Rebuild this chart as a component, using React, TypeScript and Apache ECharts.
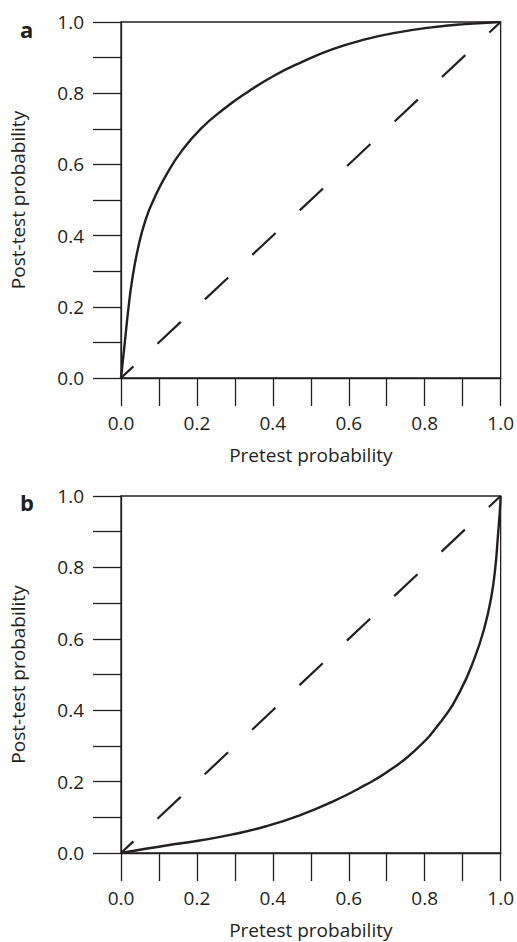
import React, { useEffect, useRef } from "react";
import * as echarts from "echarts";

// Panel a: post-test probability for a positive test
const curveAPretest = [0, 0.01, 0.02, 0.03, 0.045, 0.065, 0.09, 0.12, 0.16, 0.21, 0.27, 0.333, 0.403, 0.469, 0.556, 0.643, 0.73, 0.818, 0.905, 1.0];
const curveAPost = [0, 0.1, 0.2, 0.28, 0.365, 0.445, 0.51, 0.572, 0.638, 0.7, 0.755, 0.803, 0.849, 0.884, 0.923, 0.951, 0.971, 0.985, 0.994, 1.0];

// Panel b: post-test probability for a negative test
const curveBPretest = [0, 0.05, 0.119, 0.207, 0.294, 0.382, 0.469, 0.556, 0.643, 0.7, 0.774, 0.844, 0.894, 0.931, 0.957, 0.975, 0.986, 0.993, 0.998, 1.0];
const curveBPost = [0, 0.009, 0.021, 0.035, 0.052, 0.075, 0.105, 0.143, 0.19, 0.226, 0.287, 0.37, 0.455, 0.545, 0.63, 0.715, 0.8, 0.89, 0.96, 1.0];

// Line of identity
const diagonalX = [0, 1];
const diagonalY = [0, 1];

const tickLabels = ["0.0", "0.2", "0.4", "0.6", "0.8", "1.0"];
const panelLabels = ["a", "b"];
const xName = "Pretest probability";
const yName = "Post-test probability";

const INK = "#231f20";
const FONT = "'Open Sans', 'Noto Sans', sans-serif";

function zip(xs: number[], ys: number[]) {
  return xs.map((x, i) => [x, ys[i]]);
}

export default function App() {
  const ref = useRef<HTMLDivElement>(null);
  useEffect(() => {
    if (!ref.current) return;
    const chart = echarts.init(ref.current, null, { renderer: "svg" });

    const labelFmt = (_v: number, idx: number) => (idx % 2 === 0 ? tickLabels[idx / 2] : "");

    const makeX = (gridIndex: number) => ({
      type: "value" as const,
      gridIndex,
      min: 0,
      max: 1,
      interval: 0.1,
      name: xName,
      nameLocation: "middle" as const,
      nameGap: 67,
      nameTextStyle: { fontFamily: FONT, fontSize: 19, color: INK },
      axisLine: { show: true, lineStyle: { color: INK, width: 1.3 } },
      axisTick: { show: true, inside: false, length: 28, lineStyle: { color: INK, width: 1.3 } },
      axisLabel: { show: true, margin: 35, formatter: labelFmt, fontFamily: FONT, fontSize: 19, color: INK, showMinLabel: true, showMaxLabel: true },
      splitLine: { show: false },
    });
    const makeY = (gridIndex: number) => ({
      type: "value" as const,
      gridIndex,
      min: 0,
      max: 1,
      interval: 0.1,
      name: yName,
      nameLocation: "middle" as const,
      nameGap: 94,
      nameTextStyle: { fontFamily: FONT, fontSize: 19, color: INK },
      axisLine: { show: true, lineStyle: { color: INK, width: 1.3 } },
      axisTick: { show: true, inside: false, length: 28, lineStyle: { color: INK, width: 1.3 } },
      axisLabel: { show: true, margin: 37, formatter: labelFmt, fontFamily: FONT, fontSize: 19, color: INK, showMinLabel: true, showMaxLabel: true },
      splitLine: { show: false },
    });

    const dashStyle = { color: INK, width: 2.2, type: [32, 33] as number[], dashOffset: 15 };
    const curveStyle = { color: INK, width: 2.4 };

    chart.setOption({
      animation: false,
      backgroundColor: "#ffffff",
      grid: [
        { left: 121, top: 22, width: 382, height: 356, show: true, borderColor: INK, borderWidth: 1.3, backgroundColor: "transparent" },
        { left: 121, top: 496, width: 382, height: 357, show: true, borderColor: INK, borderWidth: 1.3, backgroundColor: "transparent" },
      ],
      xAxis: [makeX(0), makeX(1)],
      yAxis: [makeY(0), makeY(1)],
      series: [
        { type: "line", xAxisIndex: 0, yAxisIndex: 0, data: zip(diagonalX, diagonalY), showSymbol: false, symbol: "none", lineStyle: dashStyle, silent: true },
        { type: "line", xAxisIndex: 0, yAxisIndex: 0, data: zip(curveAPretest, curveAPost), showSymbol: false, symbol: "none", smooth: 0.5, lineStyle: curveStyle, silent: true },
        { type: "line", xAxisIndex: 1, yAxisIndex: 1, data: zip(diagonalX, diagonalY), showSymbol: false, symbol: "none", lineStyle: dashStyle, silent: true },
        { type: "line", xAxisIndex: 1, yAxisIndex: 1, data: zip(curveBPretest, curveBPost), showSymbol: false, symbol: "none", smooth: 0.5, lineStyle: curveStyle, silent: true },
      ],
      graphic: [
        { type: "text", left: 20, top: 18, style: { text: panelLabels[0], fontFamily: FONT, fontWeight: "bold", fontSize: 22, fill: INK } },
        { type: "text", left: 20, top: 491, style: { text: panelLabels[1], fontFamily: FONT, fontWeight: "bold", fontSize: 22, fill: INK } },
      ],
    });
    return () => chart.dispose();
  }, []);

  return <div ref={ref} style={{ position: "fixed", left: 0, top: 0, width: 517, height: 942 }} />;
}
